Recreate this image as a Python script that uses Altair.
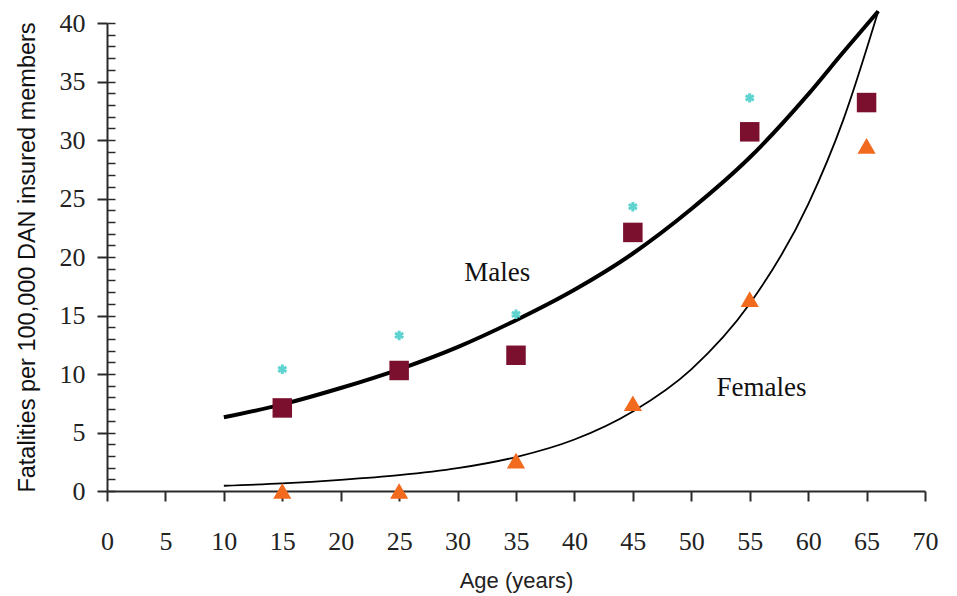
import altair as alt
import pandas as pd

# ---- data ----
all_ages = [15, 25, 35, 45, 55]
all_rate = [10.4, 13.3, 15.1, 24.3, 33.6]

sex_ages = [15, 25, 35, 45, 55, 65]
male_rate = [7.1, 10.3, 11.6, 22.1, 30.7, 33.2]
female_rate = [0.0, 0.0, 2.6, 7.5, 16.4, 29.5]

fit_age = [10, 15, 20, 25, 30, 35, 40, 45, 50, 55, 60, 63, 66]
male_fit = [6.3, 7.4, 8.8, 10.4, 12.3, 14.6, 17.2, 20.3, 24.1, 28.5, 33.9, 37.5, 41.0]
female_fit = [0.45, 0.65, 0.95, 1.35, 1.95, 2.9, 4.4, 6.8, 10.4, 16.0, 24.5, 31.7, 41.0]

label_text = ["Males", "Females"]
label_age = [33.4, 56.0]
label_rate = [18.6, 8.8]

x_ticks = list(range(0, 75, 5))
y_ticks = list(range(0, 45, 5))
y_minor = list(range(0, 41))

# ---- frames ----
df_all = pd.DataFrame({"age": all_ages, "rate": all_rate})
df_m = pd.DataFrame({"age": sex_ages, "rate": male_rate})
df_f = pd.DataFrame({"age": sex_ages, "rate": female_rate})
df_mfit = pd.DataFrame({"age": fit_age, "rate": male_fit})
df_ffit = pd.DataFrame({"age": fit_age, "rate": female_fit})
df_lab = pd.DataFrame({"age": label_age, "rate": label_rate, "txt": label_text})

x_axis = alt.Axis(values=x_ticks, tickSize=10, tickWidth=2, tickColor="#2a2a2a",
                  domainColor="#2a2a2a", domainWidth=2, grid=False,
                  labelFont="Liberation Serif", labelFontSize=26, labelColor="#222",
                  labelPadding=27, labelFlush=False, labelAngle=0,
                  titleFont="Liberation Sans", titleFontSize=22, titleFontWeight="normal",
                  titleColor="#222", titlePadding=16)
y_axis = alt.Axis(values=y_ticks, tickSize=10, tickWidth=2, tickColor="#2a2a2a",
                  domainColor="#2a2a2a", domainWidth=2, grid=False,
                  labelFont="Liberation Serif", labelFontSize=26, labelColor="#222",
                  labelPadding=12, labelFlush=False,
                  titleFont="Liberation Sans", titleFontSize=23.5, titleFontWeight="normal",
                  titleColor="#111", titlePadding=20)
y_minor_axis = alt.Axis(values=y_minor, tickSize=8, tickWidth=1.5, tickColor="#2a2a2a",
                        domain=False, labels=False, grid=False, offset=-8,
                        orient="left", title="")

x_scale = alt.Scale(domain=[0, 70], nice=False, zero=False)
y_scale = alt.Scale(domain=[0, 40], nice=False, zero=False)

x_enc = alt.X("age:Q", scale=x_scale, axis=x_axis, title="Age (years)")
y_enc = alt.Y("rate:Q", scale=y_scale, axis=y_axis,
              title="Fatalities per 100,000 DAN insured members")

male_line = alt.Chart(df_mfit).mark_line(color="black", strokeWidth=4, interpolate="monotone").encode(x=x_enc, y=y_enc)
female_line = alt.Chart(df_ffit).mark_line(color="black", strokeWidth=1.8, interpolate="monotone").encode(x=x_enc, y=y_enc)

asterisk = "M0,-1L0,1M-0.87,-0.5L0.87,0.5M-0.87,0.5L0.87,-0.5"
all_pts = alt.Chart(df_all).mark_point(shape=asterisk, filled=False, color="#5fd3d0",
                                       strokeWidth=3, size=90, opacity=1).encode(x=x_enc, y=y_enc)
male_pts = alt.Chart(df_m).mark_point(shape="square", filled=True, color="#7a0f2e",
                                      size=380, opacity=1).encode(x=x_enc, y=y_enc)
female_pts = alt.Chart(df_f).mark_point(shape="triangle-up", filled=True, color="#f26a1e",
                                        size=330, opacity=1).encode(x=x_enc, y=y_enc)
labels = alt.Chart(df_lab).mark_text(font="Liberation Serif", fontSize=27, color="#111").encode(
    x=x_enc, y=y_enc, text="txt:N")

inner = alt.layer(male_line, female_line, all_pts, male_pts, female_pts, labels)

minor = alt.Chart(df_m).mark_point(opacity=0).encode(
    x=x_enc,
    y=alt.Y("rate:Q", scale=y_scale, axis=y_minor_axis))

chart = alt.layer(inner, minor).resolve_axis(y="independent").properties(
    width=818, height=468,
    padding={"left": 107, "top": 23, "right": 32, "bottom": 105},
    autosize=alt.AutoSizeParams(type="none"),
    background="white",
).configure_view(stroke=None)

chart.save("out.html", embed_options={"renderer": "svg", "actions": False})
